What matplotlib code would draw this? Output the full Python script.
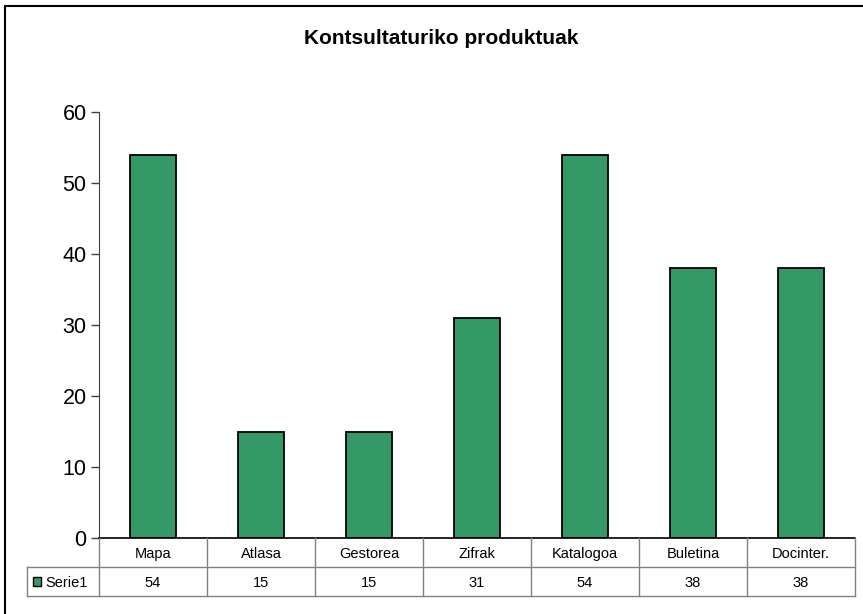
import matplotlib.pyplot as plt
from matplotlib.patches import Rectangle

plt.rcParams['font.family'] = ['Liberation Sans', 'DejaVu Sans']

title = "Kontsultaturiko produktuak"
categories = ["Mapa", "Atlasa", "Gestorea", "Zifrak", "Katalogoa", "Buletina", "Docinter."]
serie1 = [54, 15, 15, 31, 54, 38, 38]
series_name = "Serie1"
yticks = [0, 10, 20, 30, 40, 50, 60]

W, H = 863, 614
bar_color = "#339966"
grid_grey = "#808080"

fig = plt.figure(figsize=(W / 100, H / 100), dpi=100)


def px_axes(x0, y0, x1, y1):
    # axes from pixel box (top-left origin)
    return fig.add_axes([x0 / W, 1 - y1 / H, (x1 - x0) / W, (y1 - y0) / H])


# outer chart frame (only left/top edges fall inside the image)
fig.patches.append(Rectangle((5 / W, -0.1), 1.2, 1 - 6 / H + 0.1,
                             transform=fig.transFigure, fill=False,
                             edgecolor="black", linewidth=1.5))

fig.text(441 / W, 1 - 38 / H, title, ha="center", va="center",
         fontsize=15, fontweight="bold")

# main bar plot
ax = px_axes(99, 112, 855, 538)
x = list(range(len(categories)))
ax.bar(x, serie1, width=0.42, color=bar_color, edgecolor="black", linewidth=1.3)
ax.set_xlim(-0.5, len(categories) - 0.5)
ax.set_ylim(0, 60)
ax.set_yticks(yticks)
ax.set_xticks([])
ax.tick_params(axis="y", direction="out", length=6, width=1, color="#404040",
               labelsize=15.5, pad=3)
for side in ["top", "right"]:
    ax.spines[side].set_visible(False)
ax.spines["left"].set_color("#404040")
ax.spines["bottom"].set_color("black")
ax.spines["bottom"].set_linewidth(1.2)
ax.patch.set_alpha(0)

# data table under the plot
tab = px_axes(27, 538, 855, 596)
n = len(categories)
left = -0.5 - 72 / 108
tab.set_xlim(left, n - 0.5)
tab.set_ylim(0, 2)
tab.axis("off")
lw = 1.0
for i in range(n + 1):
    tab.plot([i - 0.5, i - 0.5], [0, 2], color=grid_grey, lw=lw, clip_on=False)
tab.plot([left, left], [0, 1], color=grid_grey, lw=lw, clip_on=False)
tab.plot([left, n - 0.5], [1, 1], color=grid_grey, lw=lw, clip_on=False)
tab.plot([left, n - 0.5], [0, 0], color=grid_grey, lw=lw, clip_on=False)

for i, (cat, val) in enumerate(zip(categories, serie1)):
    tab.text(i, 1.5, cat, ha="center", va="center_baseline", fontsize=10.5)
    tab.text(i, 0.5, str(val), ha="center", va="center_baseline", fontsize=10.5)

# legend key in the series label cell
tab.add_patch(Rectangle((left + 0.06, 0.33), 0.07, 0.32, facecolor=bar_color,
                        edgecolor="black", linewidth=1.0))
tab.text(left + 0.17, 0.5, series_name, ha="left", va="center_baseline", fontsize=10.5)

fig.savefig("out.png", dpi=100)
